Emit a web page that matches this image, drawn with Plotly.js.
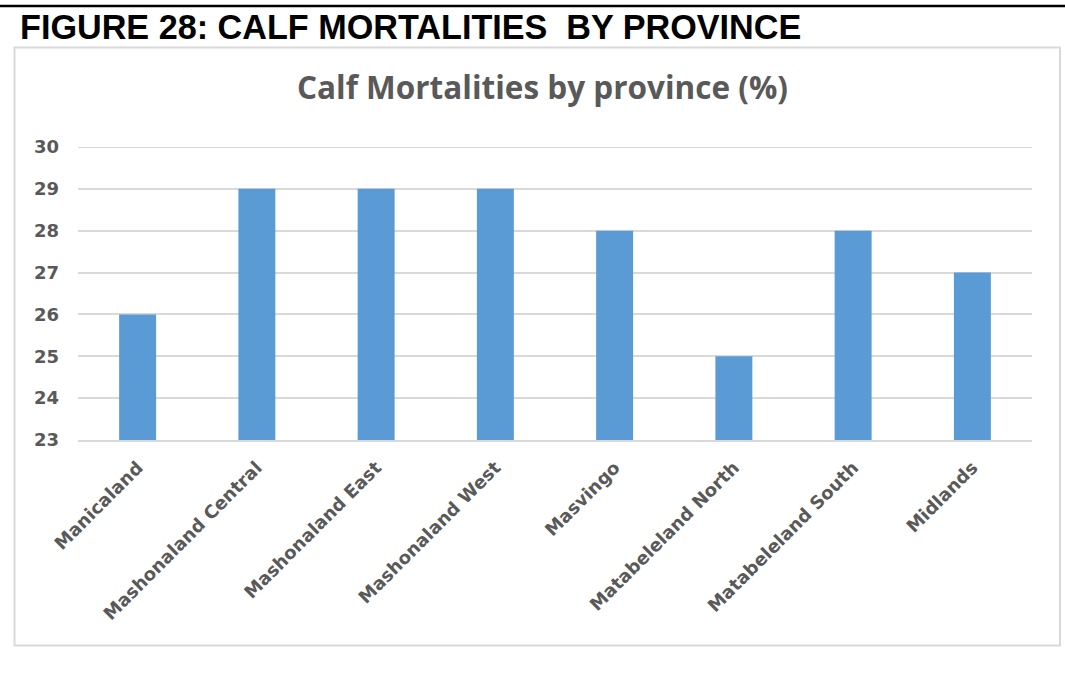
<!DOCTYPE html>
<html>
<head>
<meta charset="utf-8">
<script src="https://cdn.plot.ly/plotly-3.0.1.min.js"></script>
<style>
html,body{margin:0;padding:0;background:#fff;}
#chart{width:1065px;height:677px;}
</style>
</head>
<body>
<div id="chart"></div>
<script>
const provinces = ["Manicaland","Mashonaland Central","Mashonaland East","Mashonaland West","Masvingo","Matabeleland North","Matabeleland South","Midlands"];
const mortality = [26, 29, 29, 29, 28, 25, 28, 27];
const yTicks = [23, 24, 25, 26, 27, 28, 29, 30];

const titleFont = "'Open Sans', sans-serif";
const tickFont = "'DejaVu Sans', sans-serif";
const gray = "#595959";

// plot area geometry (pixels)
const L = 78, R = 33, T = 147, B = 237, W = 1065, H = 677;
const pw = W - L - R, ph = H - T - B;
const px = x => (x - L) / pw;
const py = y => 1 - (y - T) / ph;

const yMin = yTicks[0], yMax = yTicks[yTicks.length - 1];

const trace = {
  type: "bar",
  x: provinces,
  y: mortality,
  marker: {color: "#5b9bd5"},
  hoverinfo: "x+y"
};

const layout = {
  width: W, height: H,
  margin: {l: L, r: R, t: T, b: B},
  paper_bgcolor: "#ffffff",
  plot_bgcolor: "#ffffff",
  showlegend: false,
  bargap: 0.69,
  title: {
    text: "<b>Calf Mortalities by province (%)</b>",
    font: {family: titleFont, size: 31.5, color: gray},
    xref: "container", yref: "container",
    x: 542.5 / W, y: 1 - 88 / H,
    xanchor: "center", yanchor: "middle"
  },
  xaxis: {
    type: "category",
    tickangle: -45,
    tickfont: {family: tickFont, size: 18, color: gray, weight: "bold"},
    showgrid: false,
    showline: true, linecolor: "#d9d9d9", linewidth: 2,
    ticks: "", ticklen: 0, ticklabelstandoff: 8,
    automargin: false
  },
  yaxis: {
    range: [yMin, yMax],
    tickvals: yTicks,
    ticktext: yTicks.map(String),
    tickfont: {family: tickFont, size: 18, color: gray, weight: "bold"},
    showgrid: true, gridcolor: "#d9d9d9", gridwidth: 2,
    zeroline: false, showline: false,
    ticks: "", ticklabelstandoff: 18,
    automargin: false
  },
  shapes: [
    // top gridline (at the edge of the range, which Plotly does not draw)
    {type: "line", xref: "paper", yref: "y",
     x0: 0, x1: 1, y0: yMax, y1: yMax,
     line: {color: "#d9d9d9", width: 2}, layer: "below"},
    {type: "line", xref: "paper", yref: "paper",
     x0: px(0), x1: px(W), y0: py(6), y1: py(6),
     line: {color: "#000000", width: 2.5}},
    {type: "rect", xref: "paper", yref: "paper",
     x0: px(14.5), x1: px(1060), y0: py(47.5), y1: py(645.5),
     line: {color: "#d9d9d9", width: 2}, fillcolor: "rgba(0,0,0,0)", layer: "below"}
  ],
  annotations: [
    {text: "<b>FIGURE 28: CALF MORTALITIES  BY PROVINCE</b>",
     xref: "paper", yref: "paper", x: px(17.5), y: py(27),
     xanchor: "left", yanchor: "middle", showarrow: false,
     font: {family: "'Liberation Sans', Arial, sans-serif", size: 34.2, color: "#000000"}}
  ]
};

Plotly.newPlot("chart", [trace], layout, {displayModeBar: false, staticPlot: true});
</script>
</body>
</html>
